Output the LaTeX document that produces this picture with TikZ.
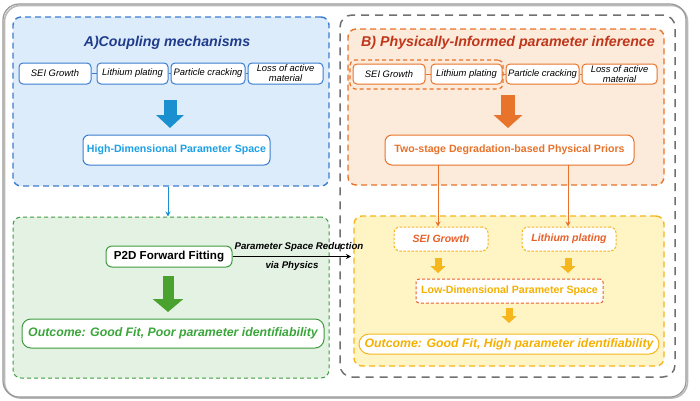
\documentclass[tikz,border=0pt]{standalone}
\usepackage{fontspec}
\setmainfont{Liberation Sans}
\usetikzlibrary{arrows.meta,calc}
\definecolor{bluefill}{HTML}{DDECFA}
\definecolor{blueline}{HTML}{3A7DD0}
\definecolor{bluedark}{HTML}{1F3C8C}
\definecolor{bluearrow}{HTML}{1A90D0}
\definecolor{bluetext}{HTML}{1CA0E6}
\definecolor{greenfill}{HTML}{E4F2E4}
\definecolor{greenline}{HTML}{3E9B3E}
\definecolor{greenarrow}{HTML}{4AA22E}
\definecolor{greentext}{HTML}{3AA53A}
\definecolor{orfill}{HTML}{FCEADA}
\definecolor{orline}{HTML}{E8732A}
\definecolor{ordark}{HTML}{C0361A}
\definecolor{ortext}{HTML}{E8722A}
\definecolor{yelfill}{HTML}{FFF4C4}
\definecolor{yelline}{HTML}{F5B61E}
\definecolor{yeltext}{HTML}{F5B000}
\definecolor{redor}{HTML}{E8602A}
\definecolor{grayline}{HTML}{707070}
\newcommand\fsz[1]{\fontsize{#1}{#1}\selectfont}
\tikzset{
  container/.style={rectangle, rounded corners=8pt, line width=1.4pt, inner sep=0pt, dash pattern=on 6pt off 4pt},
  mbox/.style={rectangle, rounded corners=4pt, fill=white, line width=1pt, inner sep=0pt, align=center},
  bigarrow/.style={line width=13pt, -{Triangle[length=13pt 0, width=27pt 0]}},
  smallarrow/.style={line width=7pt, -{Triangle[length=7pt 0, width=15pt 0]}},
  thinarrow/.style={line width=1pt, -{Stealth[length=5pt 0, width=5pt 0]}},
}
\begin{document}
\begin{tikzpicture}[x=1pt,y=-1pt]
\useasboundingbox (0,0) rectangle (700,400);
\fill[white] (0,0) rectangle (700,400);
% outer frame with slight shadow
\draw[gray!55, line width=1.6pt, rounded corners=16pt] (4.5,5.5) rectangle (687.5,398);
\node[rectangle, rounded corners=16pt, draw=gray!80, line width=1.2pt, minimum width=683pt, minimum height=393pt, inner sep=0pt] (frame) at (344.5,200.5) {};
% ===== A =====
\node[container, fill=bluefill, draw=blueline, minimum width=316pt, minimum height=169pt] (boxA) at (171,101.5) {};
\node[font=\fsz{14.2}\bfseries\itshape, text=bluedark] (titleA) at (167,43) {A)Coupling mechanisms};
\node[mbox, draw=blueline, minimum width=72pt, minimum height=21pt, font=\fsz{9.4}\itshape] (a1) at (55,73.5) {SEI Growth};
\node[mbox, draw=blueline, minimum width=71pt, minimum height=21pt, font=\fsz{9.4}\itshape] (a2) at (132.5,73.5) {Lithium plating};
\node[mbox, draw=blueline, minimum width=74pt, minimum height=21pt, font=\fsz{9.4}\itshape] (a3) at (208,73.5) {Particle cracking};
\node[mbox, draw=blueline, minimum width=75pt, minimum height=21pt, font=\fontsize{9.4}{10}\selectfont\itshape] (a4) at (285.5,73.5) {Loss of active\\material};
\draw[blueline, line width=1pt] (a1) -- (a2) (a2) -- (a3) (a3) -- (a4);
\node[mbox, draw=blueline, rounded corners=6pt, minimum width=187pt, minimum height=30pt, font=\fsz{10.6}\bfseries, text=bluetext] (hdA) at (176.5,150) {High-Dimensional Parameter Space};
\coordinate (arrAs) at (170,100);
\coordinate (arrAe) at (170,128);
\draw[bigarrow, bluearrow] (arrAs) -- (arrAe);
% ===== green =====
\node[container, fill=greenfill, draw=greenline, line width=1pt, dash pattern=on 4pt off 3pt, minimum width=316pt, minimum height=161pt] (boxG) at (171,297.5) {};
\draw[bluearrow, thinarrow] ([xshift=-3pt]boxA.south) -- ([xshift=-3pt]boxG.north);
\node[mbox, draw=greenline, rounded corners=6pt, minimum width=126pt, minimum height=21pt, font=\fsz{11.6}\bfseries] (p2d) at (169,256.5) {P2D Forward Fitting};
\coordinate (arrGs) at (168,276);
\coordinate (arrGe) at (168,312);
\draw[greenarrow, line width=11pt, -{Triangle[length=13pt 0, width=30pt 0]}] (arrGs) -- (arrGe);
\node[mbox, draw=greenline, rounded corners=9pt, minimum width=302pt, minimum height=29pt, font=\fsz{12.3}\bfseries\itshape, text=greentext] (outG) at (173,333.5) {Outcome: Good Fit, Poor parameter identifiability};
% ===== gray B container =====
\node[rectangle, rounded corners=12pt, draw=grayline, line width=1.5pt, dash pattern=on 8pt off 6pt, minimum width=335pt, minimum height=362pt, inner sep=0pt] (boxGray) at (507.5,196) {};
% ===== B =====
\node[container, fill=orfill, draw=orline, minimum width=316pt, minimum height=156pt] (boxB) at (506,107) {};
\node[font=\fsz{14.2}\bfseries\itshape, text=ordark] (titleB) at (508,43) {B) Physically-Informed parameter inference};
\node[mbox, draw=orline, minimum width=72pt, minimum height=20pt, font=\fsz{9.4}\itshape] (b1) at (389,74) {SEI Growth};
\node[mbox, draw=orline, minimum width=71pt, minimum height=20pt, font=\fsz{9.4}\itshape] (b2) at (466.5,74) {Lithium plating};
\node[mbox, draw=orline, minimum width=73pt, minimum height=20pt, font=\fsz{9.4}\itshape] (b3) at (542.5,74) {Particle cracking};
\node[mbox, draw=orline, minimum width=75pt, minimum height=20pt, font=\fontsize{9.4}{10}\selectfont\itshape] (b4) at (619.5,74) {Loss of active\\material};
\draw[orline, line width=1pt] (b1) -- (b2) (b2) -- (b3) (b3) -- (b4);
\node[rectangle, rounded corners=5pt, draw=orline, line width=1.2pt, dash pattern=on 4pt off 3pt, minimum width=153pt, minimum height=29pt, inner sep=0pt] (grpB) at (426.5,74.5) {};
\node[mbox, draw=orline, rounded corners=7pt, minimum width=249pt, minimum height=30pt, font=\fsz{10.6}\bfseries, text=ortext] (tsB) at (509.5,150) {Two-stage Degradation-based Physical Priors};
\coordinate (arrBs) at (508,95);
\coordinate (arrBe) at (508,128);
\draw[bigarrow, orline, line width=14pt, -{Triangle[length=13pt 0, width=28pt 0]}] (arrBs) -- (arrBe);
% ===== yellow =====
\node[container, fill=yelfill, draw=yelline, minimum width=310pt, minimum height=150pt] (boxY) at (509,291) {};
\node[mbox, draw=yelline, rounded corners=6pt, line width=1pt, dash pattern=on 2.5pt off 1.5pt, minimum width=94pt, minimum height=24pt, font=\fsz{10.5}\bfseries\itshape, text=redor] (sY) at (441,239) {SEI Growth};
\node[mbox, draw=yelline, rounded corners=6pt, line width=1pt, dash pattern=on 2.5pt off 1.5pt, minimum width=94pt, minimum height=24pt, font=\fsz{10.5}\bfseries\itshape, text=redor] (lY) at (569,239) {Lithium plating};
\coordinate (t1) at (438,165);
\coordinate (t2) at (568,165);
\draw[ortext, line width=0.9pt, -{Stealth[length=5pt 0, width=5pt 0]}] (t1) -- (t1 |- sY.north);
\draw[ortext, line width=0.9pt, -{Stealth[length=5pt 0, width=5pt 0]}] (t2) -- (t2 |- lY.north);
\coordinate (y1s) at (438,258);
\coordinate (y1e) at (438,273);
\coordinate (y2s) at (568,258);
\coordinate (y2e) at (568,273);
\draw[smallarrow, yelline] (y1s) -- (y1e);
\draw[smallarrow, yelline] (y2s) -- (y2e);
\node[mbox, draw=redor, rounded corners=3pt, line width=1pt, dash pattern=on 3pt off 2pt, minimum width=187pt, minimum height=24pt, font=\fsz{10.6}\bfseries, text=yeltext] (lowY) at (509.5,291) {Low-Dimensional Parameter Space};
\coordinate (y3s) at (509,308);
\coordinate (y3e) at (509,323);
\draw[smallarrow, yelline] (y3s) -- (y3e);
\node[mbox, draw=yelline, rounded corners=10pt, minimum width=300pt, minimum height=20pt, font=\fsz{12.3}\bfseries\itshape, text=yeltext] (outY) at (509,344) {Outcome: Good Fit, High parameter identifiability};
% ===== reduction arrow =====
\coordinate (redEnd) at (351,256.5);
\draw[black, thinarrow] (p2d.east) -- (redEnd);
\node[font=\fsz{9.7}\bfseries\itshape] (redLab1) at (299,247) {Parameter Space Reduction};
\node[font=\fsz{9.7}\bfseries\itshape] (redLab2) at (292,266) {via Physics};
\end{tikzpicture}
\end{document}
